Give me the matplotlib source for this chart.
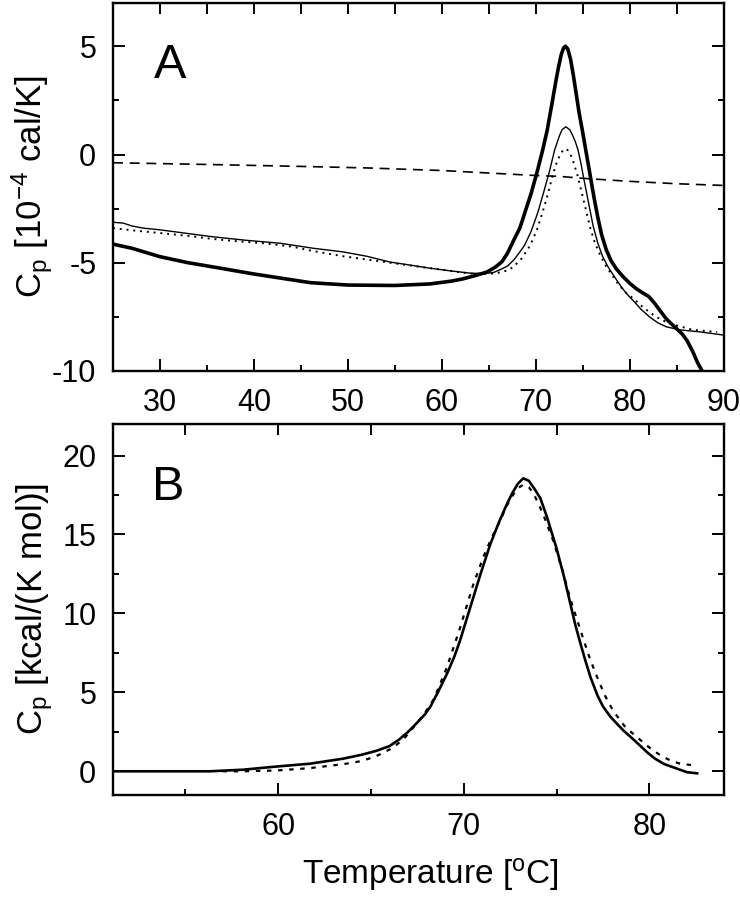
import matplotlib
matplotlib.use("Agg")
import matplotlib.pyplot as plt
from matplotlib.ticker import MultipleLocator

plt.rcParams['font.family'] = ['Liberation Sans', 'DejaVu Sans']
plt.rcParams['mathtext.default'] = 'regular'
plt.rcParams['axes.unicode_minus'] = False

# Panel A: raw heat capacity traces (10^-4 cal/K)
a_thick_t = [25, 27, 30, 33, 36, 40, 43, 46, 50, 55, 58.7, 61, 62.2, 63.5, 64.8, 65.7,
             66.4, 67.0, 67.6, 68.3, 68.9, 69.5, 70.1, 70.7, 71.2, 71.7, 72.1, 72.4,
             72.7, 72.95, 73.15, 73.4, 73.7, 74.0, 74.3, 74.6, 75.0, 75.4, 75.8, 76.2,
             76.6, 77.0, 77.5, 78.0, 78.6, 79.3, 80.0, 80.7, 81.4, 82.0, 82.6, 83.2,
             83.9, 84.5, 85.0, 85.6, 86.1, 86.7, 87.2, 87.7]
a_thick_cp = [-4.14, -4.33, -4.72, -5.0, -5.22, -5.52, -5.72, -5.92, -6.03, -6.05, -5.98,
              -5.85, -5.75, -5.6, -5.43, -5.2, -4.95, -4.55, -4.0, -3.4, -2.6, -1.8,
              -0.87, 0.15, 1.1, 2.3, 3.3, 4.0, 4.6, 4.92, 5.0, 4.88, 4.4, 3.65, 2.8,
              1.95, 1.0, 0.0, -1.0, -2.0, -2.9, -3.7, -4.4, -4.9, -5.3, -5.65, -5.95,
              -6.2, -6.4, -6.55, -6.85, -7.2, -7.6, -7.85, -8.05, -8.3, -8.6, -9.1,
              -9.6, -10.0]

a_thin_t = [25, 26.1, 27, 28.2, 30, 32.1, 35.6, 39.1, 42.8, 46.3, 49.5, 52, 54.5, 56.5,
            58.7, 61, 63, 64.5, 65.5, 66.3, 67.0, 67.7, 68.3, 68.8, 69.5, 70.2, 70.8,
            71.4, 72.0, 72.5, 72.8, 73.2, 73.6, 73.9, 74.2, 74.5, 74.8, 75.1, 75.6,
            76.1, 76.6, 77.1, 77.7, 78.3, 79.0, 79.6, 80.3, 81.2, 82.1, 83.0, 83.9,
            85.3, 87.4, 89.8, 90]
a_thin_cp = [-3.13, -3.17, -3.3, -3.4, -3.48, -3.6, -3.8, -3.96, -4.1, -4.33, -4.5, -4.7,
             -4.97, -5.1, -5.25, -5.38, -5.48, -5.5, -5.45, -5.3, -5.15, -4.85, -4.5,
             -4.2, -3.55, -2.7, -1.8, -0.87, 0.2, 0.85, 1.15, 1.28, 1.15, 0.9, 0.6, 0.2,
             -0.4, -1.1, -2.2, -3.3, -4.1, -4.7, -5.2, -5.6, -6.05, -6.4, -6.72, -7.15,
             -7.5, -7.78, -7.96, -8.1, -8.19, -8.33, -8.35]

a_dot_t = [25, 27, 30.3, 33, 35.6, 38, 41, 44, 46.3, 49.5, 52, 54.5, 58.7, 61, 63, 65,
           66.2, 67.0, 67.6, 68.5, 69.4, 70.1, 70.7, 71.3, 71.8, 72.2, 72.6, 72.9, 73.1,
           73.4, 73.7, 74.0, 74.4, 74.8, 75.3, 75.8, 76.3, 76.8, 77.4, 78.0, 78.8, 79.5,
           80.5, 81.4, 82.3, 83.2, 84.1, 85.0, 86.7, 88, 89.3]
a_dot_cp = [-3.4, -3.5, -3.64, -3.76, -3.9, -4.0, -4.1, -4.25, -4.46, -4.7, -4.85, -5.0,
            -5.25, -5.38, -5.5, -5.52, -5.45, -5.35, -5.2, -4.8, -4.2, -3.5, -2.7, -1.8,
            -0.95, -0.4, 0.0, 0.2, 0.27, 0.2, 0.0, -0.35, -0.9, -1.6, -2.5, -3.4, -4.1,
            -4.6, -5.1, -5.5, -6.0, -6.35, -6.7, -7.05, -7.35, -7.6, -7.78, -7.9, -8.1,
            -8.15, -8.2]

a_base_t = [25, 35, 45, 52, 60, 63, 70, 72.5, 75, 80, 85, 90]
a_base_cp = [-0.38, -0.46, -0.55, -0.62, -0.74, -0.81, -0.97, -1.01, -1.1, -1.24, -1.35, -1.43]

# Panel B: excess heat capacity (kcal/(K mol))
b_exp_t = [51.1, 53, 56.3, 58.1, 59.9, 61.7, 63.5, 64.5, 65.3, 66.0, 66.5, 67.0, 67.5,
           67.9, 68.2, 68.6, 69.1, 69.5, 69.8, 70.35, 70.9, 71.43, 71.9, 72.33, 72.6,
           72.9, 73.2, 73.5, 73.8, 74.12, 74.48, 75.0, 75.4, 75.74, 76.0, 76.28, 76.55,
           76.82, 77.2, 77.5, 77.9, 78.3, 78.6, 79.2, 79.87, 80.3, 80.77, 81.4, 82.03,
           82.57]
b_exp_cp = [0, 0, 0, 0.1, 0.3, 0.48, 0.8, 1.05, 1.3, 1.6, 2.0, 2.5, 3.1, 3.6, 4.1, 5.0,
            6.2, 7.3, 8.3, 10.4, 12.5, 14.4, 15.8, 16.95, 17.6, 18.2, 18.56, 18.4, 17.9,
            17.3, 16.1, 14.1, 12.3, 10.6, 9.3, 8.1, 7.0, 5.97, 4.8, 4.1, 3.45, 2.95, 2.58,
            1.95, 1.21, 0.8, 0.47, 0.2, -0.06, -0.13]

b_fit_t = [57, 58.1, 59.9, 61.7, 63.5, 64.5, 65.3, 66.2, 66.8, 67.3, 67.9, 68.4, 69.09,
           69.8, 70.5, 71.06, 71.5, 71.97, 72.3, 72.7, 73.0, 73.2, 73.5, 73.75, 74.0,
           74.3, 74.8, 75.3, 75.74, 76.1, 76.46, 76.8, 77.18, 77.6, 78.06, 78.7, 79.33,
           80.0, 80.6, 81.1, 81.67, 82.57]
b_fit_cp = [0, 0, 0.05, 0.2, 0.45, 0.65, 0.97, 1.5, 2.1, 2.8, 3.7, 4.6, 6.6, 9.1, 11.8,
            13.6, 14.8, 15.9, 16.8, 17.6, 18.0, 18.15, 18.0, 17.6, 17.0, 16.2, 14.65,
            12.8, 10.9, 9.6, 8.3, 7.1, 5.97, 4.8, 3.8, 2.8, 2.16, 1.5, 1.0, 0.7, 0.47,
            0.36]

fig = plt.figure(figsize=(7.4, 9.0), dpi=100)
ax1 = fig.add_axes([0.1527, 0.5878, 0.8253, 0.4089])
ax2 = fig.add_axes([0.1527, 0.1167, 0.8253, 0.4122])

ax1.plot(a_base_t, a_base_cp, color='black', lw=1.2, ls=(0, (6, 4)))
ax1.plot(a_dot_t, a_dot_cp, color='black', lw=1.4, ls=(0, (1, 2.5)))
ax1.plot(a_thin_t, a_thin_cp, color='black', lw=1.0)
ax1.plot(a_thick_t, a_thick_cp, color='black', lw=2.6)

ax2.plot(b_fit_t, b_fit_cp, color='black', lw=1.6, ls=(0, (2, 3)))
ax2.plot(b_exp_t, b_exp_cp, color='black', lw=1.9)

ax1.set_xlim(25, 90)
ax1.set_ylim(-10, 7)
ax1.xaxis.set_major_locator(MultipleLocator(10))
ax1.xaxis.set_minor_locator(MultipleLocator(5))
ax1.yaxis.set_major_locator(MultipleLocator(5))
ax1.yaxis.set_minor_locator(MultipleLocator(2.5))

ax2.set_xlim(51.1, 84)
ax2.set_ylim(-1.5, 22)
ax2.xaxis.set_major_locator(MultipleLocator(10))
ax2.xaxis.set_minor_locator(MultipleLocator(5))
ax2.yaxis.set_major_locator(MultipleLocator(5))
ax2.yaxis.set_minor_locator(MultipleLocator(2.5))

for ax in (ax1, ax2):
    for sp in ax.spines.values():
        sp.set_linewidth(1.7)
    ax.tick_params(which='both', direction='in', right=True, top=False, width=1.4)
    ax.tick_params(which='major', length=8.5, labelsize=22, pad=12)
    ax.tick_params(which='minor', length=4.5)
    # top edge ticks all the same length
    sec = ax.secondary_xaxis('top')
    sec.xaxis.set_major_locator(MultipleLocator(5))
    sec.tick_params(direction='in', length=8, width=1.4, labeltop=False)

ax1.set_ylabel('C$_p$ [10$^{-4}$ cal/K]', fontsize=25)
ax2.set_ylabel('C$_p$ [kcal/(K mol)]', fontsize=25)
ax1.yaxis.set_label_coords(-0.095, 0.5)
ax2.yaxis.set_label_coords(-0.095, 0.5)
ax2.set_xlabel('Temperature [$^o$C]', fontsize=24)
ax2.xaxis.set_label_coords(0.52, -0.165)

ax1.text(0.093, 0.83, 'A', transform=ax1.transAxes, fontsize=35, ha='center', va='center')
ax2.text(0.09, 0.83, 'B', transform=ax2.transAxes, fontsize=35, ha='center', va='center')

fig.savefig('out.png', dpi=100)
